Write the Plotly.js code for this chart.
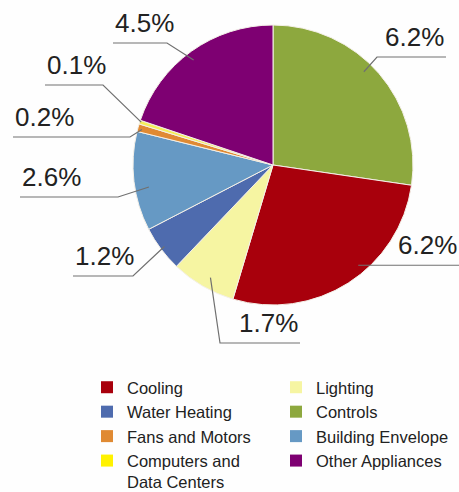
<!DOCTYPE html>
<html><head><meta charset="utf-8">
<script src="https://cdn.plot.ly/plotly-3.0.1.min.js"></script>
<style>body{margin:0;background:#fff}</style>
</head><body><div id="chart" style="width:459px;height:492px"></div>
<script>
// ---- data ----
const sliceLabels = ['Controls','Cooling','Lighting','Water Heating','Building Envelope','Fans and Motors','Computers and<br>Data Centers','Other Appliances'];
const sliceValues = [6.2, 6.2, 1.7, 1.2, 2.6, 0.2, 0.1, 4.5];
const sliceColors = ['#8DA83E','#A8000C','#F6F5A2','#4E6BAE','#6699C4','#E08A33','#F5EE5A','#7E0072'];
const legendCol1 = ['Cooling','Water Heating','Fans and Motors','Computers and<br>Data Centers'];
const legendCol1Colors = ['#A8000C','#4E6BAE','#E08A33','#FFF200'];
const legendCol2 = ['Lighting','Controls','Building Envelope','Other Appliances'];
const legendCol2Colors = ['#F6F5A2','#8DA83E','#6699C4','#7E0072'];
const valueText = sliceValues.map(v => v.toFixed(1) + '%');

// ---- layout / style ----
const W = 459, H = 492;
const pieBox = {x0: 133, x1: 413, y0: 25, y1: 305};
const cx = (pieBox.x0 + pieBox.x1) / 2, cy = (pieBox.y0 + pieBox.y1) / 2, R = (pieBox.x1 - pieBox.x0) / 2;
// leader line style per slice: t = position inside slice, k = radius fraction, elbow point, end x of horizontal
const leader = [
  {t:0.45, k:0.93, elbow:[377,57],  endX:446},
  {t:0.42, k:0.94, elbow:null,      endX:459},
  {t:0.46, k:0.92, elbow:[220,343], endX:300},
  {t:0.5,  k:0.97, elbow:[133,276], endX:73},
  {t:0.42, k:0.90, elbow:[118,197], endX:20},
  {t:0.4,  k:0.97, elbow:[130,137], endX:13},
  {t:0.6,  k:0.99, elbow:[103,85],  endX:45},
  {t:0.48, k:0.94, elbow:[167,43],  endX:113}
];
const X = x => x / W, Y = y => 1 - y / H;

const total = sliceValues.reduce((a, b) => a + b, 0);
let cum = 0;
const shapes = [], annotations = [];
sliceValues.forEach((v, i) => {
  const span = v / total * 360;
  const L = leader[i];
  const th = (cum + L.t * span) * Math.PI / 180;
  cum += span;
  const ax = cx + L.k * R * Math.sin(th), ay = cy - L.k * R * Math.cos(th);
  const ex = L.elbow ? L.elbow[0] : ax, ey = L.elbow ? L.elbow[1] : ay;
  shapes.push({type:'path', xref:'paper', yref:'paper',
    path:`M${X(ax)},${Y(ay)} L${X(ex)},${Y(ey)} L${X(L.endX)},${Y(ey)}`,
    line:{color:'#707070', width:1.2}});
  annotations.push({xref:'paper', yref:'paper', x:X(L.endX), y:Y(ey - 3),
    xanchor: L.endX > ex ? 'right' : 'left', yanchor:'bottom', showarrow:false,
    text: valueText[i],
    font:{family:'Liberation Sans, Arial, sans-serif', size:26, color:'#222'}});
});

const tiny = {x:[X(cx-0.5), X(cx+0.5)], y:[Y(cy+0.5), Y(cy-0.5)]};
const legendTrace1 = {type:'pie', labels:legendCol1, values:legendCol1.map(() => 1),
  marker:{colors:legendCol1Colors, line:{width:0}}, sort:false, textinfo:'none', hoverinfo:'skip',
  domain:tiny, showlegend:true, legend:'legend'};
const legendTrace2 = {type:'pie', labels:legendCol2, values:legendCol2.map(() => 1),
  marker:{colors:legendCol2Colors, line:{width:0}}, sort:false, textinfo:'none', hoverinfo:'skip',
  domain:tiny, showlegend:true, legend:'legend2'};
const pieTrace = {type:'pie', labels:sliceLabels, values:sliceValues,
  marker:{colors:sliceColors, line:{color:'#F4F0E8', width:1}},
  sort:false, direction:'clockwise', rotation:0, textinfo:'none', showlegend:false,
  domain:{x:[X(pieBox.x0), X(pieBox.x1)], y:[Y(pieBox.y1), Y(pieBox.y0)]}};

const legendFont = {family:'Liberation Sans, Arial, sans-serif', size:16.5, color:'#222'};
const layout = {
  width:W, height:H, margin:{l:0, r:0, t:0, b:0, autoexpand:false},
  paper_bgcolor:'#FEFEFE', plot_bgcolor:'#FEFEFE',
  showlegend:true,
  legend:{orientation:'v', x:X(87), y:Y(370), xanchor:'left', yanchor:'top', valign:'top',
    font:legendFont, bgcolor:'rgba(0,0,0,0)', traceorder:'normal'},
  legend2:{orientation:'v', x:X(276), y:Y(370), xanchor:'left', yanchor:'top', valign:'top',
    font:legendFont, bgcolor:'rgba(0,0,0,0)', traceorder:'normal'},
  shapes:shapes, annotations:annotations
};
Plotly.newPlot('chart', [legendTrace1, legendTrace2, pieTrace], layout, {staticPlot:true});
</script></body></html>
